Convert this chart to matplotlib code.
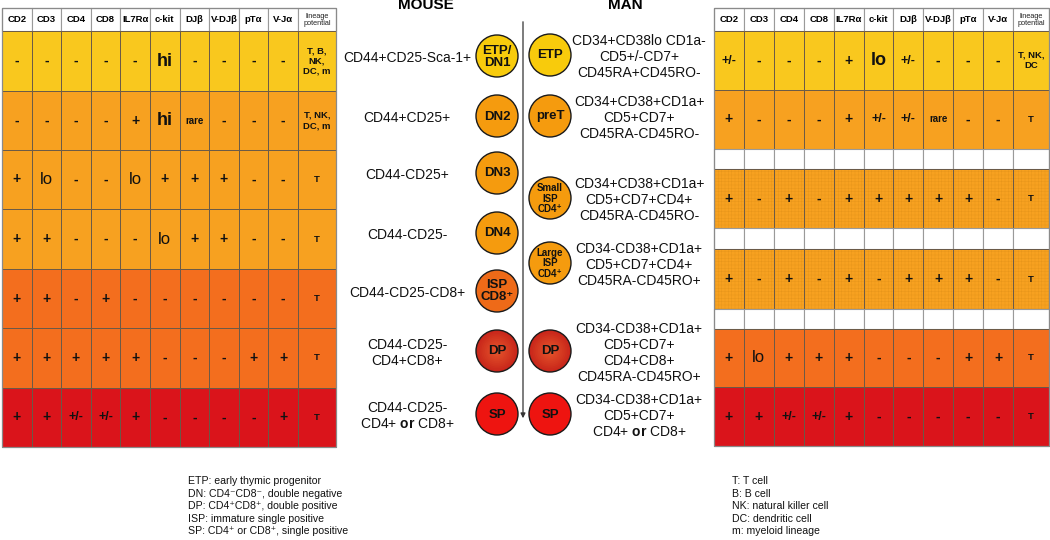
import numpy as np
import matplotlib
matplotlib.use("Agg")
import matplotlib.pyplot as plt
from matplotlib.patches import Rectangle, Circle
from matplotlib.colors import to_rgb

plt.rcParams["font.family"] = ["Liberation Sans", "DejaVu Sans"]
plt.rcParams["mathtext.fontset"] = "custom"
plt.rcParams["mathtext.rm"] = "Liberation Sans"
plt.rcParams["mathtext.bf"] = "Liberation Sans:bold"
plt.rcParams["hatch.linewidth"] = 0.3

# ── Data ──────────────────────────────────────────────────────────────────────

MARKERS     = ["CD2", "CD3", "CD4", "CD8", "IL7Rα", "c-kit", "DJβ", "V-DJβ", "pTα", "V-Jα"]
LINEAGE_HDR = "lineage\npotential"

MOUSE_STAGES = ["ETP/\nDN1", "DN2", "DN3", "DN4", "ISP\nCD8⁺", "DP", "SP"]
MOUSE_PHENO = [
    "CD44+CD25-Sca-1+",
    "CD44+CD25+",
    "CD44-CD25+",
    "CD44-CD25-",
    "CD44-CD25-CD8+",
    "CD44-CD25-\nCD4+CD8+",
    "CD44-CD25-\nCD4+ $\\mathbf{or}$ CD8+",
]
MOUSE_TABLE = [
    ["-", "-", "-", "-", "-", "hi", "-", "-", "-", "-"],
    ["-", "-", "-", "-", "+", "hi", "rare", "-", "-", "-"],
    ["+", "lo", "-", "-", "lo", "+", "+", "+", "-", "-"],
    ["+", "+", "-", "-", "-", "lo", "+", "+", "-", "-"],
    ["+", "+", "-", "+", "-", "-", "-", "-", "-", "-"],
    ["+", "+", "+", "+", "+", "-", "-", "-", "+", "+"],
    ["+", "+", "+/-", "+/-", "+", "-", "-", "-", "-", "+"],
]
MOUSE_LINEAGE = ["T, B,\nNK,\nDC, m", "T, NK,\nDC, m", "T", "T", "T", "T", "T"]
MOUSE_LEVEL   = [0, 1, 1, 1, 2, 2, 3]

# None = empty spacer row in the human table
MAN_STAGES = ["ETP", "preT", None, "Small\nISP\nCD4⁺", None, "Large\nISP\nCD4⁺", None, "DP", "SP"]
MAN_PHENO = [
    "CD34+CD38lo CD1a-\nCD5+/-CD7+\nCD45RA+CD45RO-",
    "CD34+CD38+CD1a+\nCD5+CD7+\nCD45RA-CD45RO-",
    None,
    "CD34+CD38+CD1a+\nCD5+CD7+CD4+\nCD45RA-CD45RO-",
    None,
    "CD34-CD38+CD1a+\nCD5+CD7+CD4+\nCD45RA-CD45RO+",
    None,
    "CD34-CD38+CD1a+\nCD5+CD7+\nCD4+CD8+\nCD45RA-CD45RO+",
    "CD34-CD38+CD1a+\nCD5+CD7+\nCD4+ $\\mathbf{or}$ CD8+",
]
MAN_TABLE = [
    ["+/-", "-", "-", "-", "+", "lo", "+/-", "-", "-", "-"],
    ["+", "-", "-", "-", "+", "+/-", "+/-", "rare", "-", "-"],
    None,
    ["+", "-", "+", "-", "+", "+", "+", "+", "+", "-"],
    None,
    ["+", "-", "+", "-", "+", "-", "+", "+", "+", "-"],
    None,
    ["+", "lo", "+", "+", "+", "-", "-", "-", "+", "+"],
    ["+", "+", "+/-", "+/-", "+", "-", "-", "-", "-", "-"],
]
MAN_LINEAGE = ["T, NK,\nDC", "T", None, "T", None, "T", None, "T", "T"]
MAN_LEVEL   = [0, 1, None, 1, None, 1, None, 2, 3]
MAN_HATCHED = [False, False, False, True, False, True, False, False, False]

LEGEND_LEFT = ["ETP: early thymic progenitor",
               "DN: CD4⁻CD8⁻, double negative",
               "DP: CD4⁺CD8⁺, double positive",
               "ISP: immature single positive",
               "SP: CD4⁺ or CD8⁺, single positive"]
LEGEND_RIGHT = ["T: T cell", "B: B cell", "NK: natural killer cell",
                "DC: dendritic cell", "m: myeloid lineage"]

# ── Styles / layout ───────────────────────────────────────────────────────────

ROW_COLORS    = ["#F9C81E", "#F7A120", "#F36E1E", "#DA141B"]
CIRCLE_COLORS = {"ETP/\nDN1": "#F8CB0C", "ETP": "#F8CB0C", "ISP\nCD8⁺": "#EE6A18",
                 "SP": "#EE1410"}
CIRCLE_DEFAULT = "#F59B0E"
GRID = "#6a5a48"

HDR_TOP, HDR_H = 8, 23
MOUSE_ROW_H    = [60, 59, 59, 60, 59, 60, 59]
MAN_ROW_H      = [59, 59, 20, 59, 21, 60, 20, 58, 59]
MOUSE_CIRC_Y   = [56, 116, 173, 233, 291, 351, 414]
MAN_CIRC_Y     = [55, 116, None, 198, None, 263, None, 351, 414]
CIRC_R         = 21


def cell_style(val, row):
    if val == "hi" or (val == "lo" and row == 0):
        return 13, "bold"
    if val == "lo":
        return 12, "normal"
    if val == "rare":
        return 7, "bold"
    if val == "+/-":
        return 9, "bold"
    return 10, "bold"


def draw_table(ax, x0, col_w, lin_w, row_h, table, lineage, level, hatched=None):
    xs = [x0 + i * col_w for i in range(11)] + [x0 + 10 * col_w + lin_w]
    for j in range(11):
        ax.add_patch(Rectangle((xs[j], HDR_TOP), xs[j + 1] - xs[j], HDR_H,
                               fc="white", ec="#9a9a9a", lw=0.8))
        if j < 10:
            ax.text((xs[j] + xs[j + 1]) / 2, HDR_TOP + HDR_H / 2 + 0.5, MARKERS[j],
                    ha="center", va="center", fontsize=6.8, fontweight="bold")
        else:
            ax.text((xs[j] + xs[j + 1]) / 2, HDR_TOP + HDR_H / 2 + 0.5, LINEAGE_HDR,
                    ha="center", va="center", fontsize=5.3, linespacing=1.0, color="#222")
    y = HDR_TOP + HDR_H
    for r, h in enumerate(row_h):
        vals = table[r]
        for j in range(11):
            w = xs[j + 1] - xs[j]
            if vals is None:
                ax.add_patch(Rectangle((xs[j], y), w, h, fc="white", ec="#9a9a9a", lw=0.8))
                continue
            fc = ROW_COLORS[level[r]]
            ax.add_patch(Rectangle((xs[j], y), w, h, fc=fc, ec=GRID, lw=0.7))
            if hatched is not None and hatched[r]:
                ax.add_patch(Rectangle((xs[j], y), w, h, fill=False, hatch="+++++",
                                       ec="#E6951A", lw=0))
                ax.add_patch(Rectangle((xs[j], y), w, h, fill=False, ec=GRID, lw=0.7))
            cx, cy = xs[j] + w / 2, y + h / 2
            if j < 10:
                fs, fw = cell_style(vals[j], r)
                ax.text(cx, cy, vals[j], ha="center", va="center", fontsize=fs,
                        fontweight=fw, color="#111")
            else:
                ax.text(cx, cy, lineage[r], ha="center", va="center", fontsize=6.8,
                        fontweight="bold", linespacing=1.15, color="#111")
        y += h
    ax.add_patch(Rectangle((xs[0], HDR_TOP), xs[-1] - xs[0], y - HDR_TOP,
                           fill=False, ec="#8a8a8a", lw=0.9))


def draw_circle(ax, x, y, label):
    if label == "DP":
        c0, c1 = np.array(to_rgb("#E8582C")), np.array(to_rgb("#C8261A"))
        for k in range(12, 0, -1):
            t = k / 12
            ax.add_patch(Circle((x, y), CIRC_R * t, fc=c0 + (c1 - c0) * t, ec="none"))
        ax.add_patch(Circle((x, y), CIRC_R, fill=False, ec="#1a1a1a", lw=1.0))
    else:
        ax.add_patch(Circle((x, y), CIRC_R, fc=CIRCLE_COLORS.get(label, CIRCLE_DEFAULT),
                            ec="#1a1a1a", lw=1.0))
    small = label.startswith(("Small", "Large"))
    ax.text(x, y + 0.5, label, ha="center", va="center",
            fontsize=7 if small else 9.5, fontweight="bold",
            linespacing=1.05 if small else 1.0, color="#111")


fig = plt.figure(figsize=(10.5, 5.4), dpi=100)
ax = fig.add_axes([0, 0, 1, 1])
ax.set_xlim(0, 1050)
ax.set_ylim(540, 0)
ax.axis("off")

# tables
draw_table(ax, 2, 29.6, 38, MOUSE_ROW_H, MOUSE_TABLE, MOUSE_LINEAGE, MOUSE_LEVEL)
draw_table(ax, 714, 29.9, 36, MAN_ROW_H, MAN_TABLE, MAN_LINEAGE, MAN_LEVEL, MAN_HATCHED)

# titles + arrow
ax.text(426, 5, "MOUSE", ha="center", va="center", fontsize=11, fontweight="bold")
ax.text(625, 5, "MAN", ha="center", va="center", fontsize=11, fontweight="bold")
ax.annotate("", xy=(523, 421), xytext=(523, 19),
            arrowprops=dict(arrowstyle="-|>", color="#333333", lw=0.9, mutation_scale=7))

# mouse stages
for lab, ph, cy in zip(MOUSE_STAGES, MOUSE_PHENO, MOUSE_CIRC_Y):
    draw_circle(ax, 497, cy, lab)
    ax.text(407, cy + 2, ph, ha="center", va="center", fontsize=10,
            linespacing=1.2, color="#111")

# human stages
for lab, ph, cy in zip(MAN_STAGES, MAN_PHENO, MAN_CIRC_Y):
    if lab is None:
        continue
    draw_circle(ax, 550, cy, lab)
    ax.text(639, cy + 2, ph, ha="center", va="center", fontsize=10,
            linespacing=1.2, color="#111")

# abbreviations
ax.text(188, 476, "\n".join(LEGEND_LEFT), ha="left", va="top", fontsize=7.6,
        linespacing=1.32, color="#111")
ax.text(732, 476, "\n".join(LEGEND_RIGHT), ha="left", va="top", fontsize=7.6,
        linespacing=1.32, color="#111")

fig.savefig("out.png", dpi=100)
plt.close(fig)
